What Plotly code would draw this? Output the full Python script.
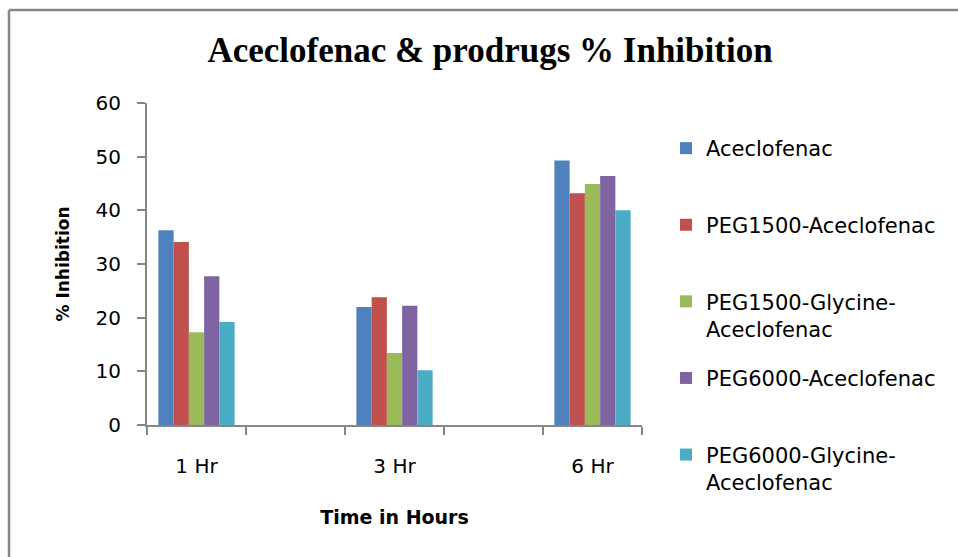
import plotly.graph_objects as go

categories = ["1 Hr", " ", "3 Hr", "  ", "6 Hr"]
time_points = ["1 Hr", "3 Hr", "6 Hr"]
series_names = [
    "Aceclofenac",
    "PEG1500-Aceclofenac",
    "PEG1500-Glycine-<br>Aceclofenac",
    "PEG6000-Aceclofenac",
    "PEG6000-Glycine-<br>Aceclofenac",
]
aceclofenac = [36.3, 22.0, 49.3]
peg1500 = [34.1, 23.8, 43.2]
peg1500_gly = [17.3, 13.4, 44.9]
peg6000 = [27.7, 22.2, 46.4]
peg6000_gly = [19.2, 10.2, 40.0]
series_values = [aceclofenac, peg1500, peg1500_gly, peg6000, peg6000_gly]
colors = ["#4F81BD", "#C0504D", "#9BBB59", "#8064A2", "#4BACC6"]
y_ticks = [0, 10, 20, 30, 40, 50, 60]

W, H = 958, 557
ML, MR, MT, MB = 147, 316, 103, 132

font_family = "'DejaVu Sans', sans-serif"
fig = go.Figure()
for i, (name, vals, col) in enumerate(zip(series_names, series_values, colors)):
    legend_name = name if "<br>" in name else name + "<br>&nbsp;"
    fig.add_trace(go.Bar(x=time_points, y=vals, name=legend_name,
                         marker=dict(color=col, line=dict(width=0)),
                         legendgroup=str(i)))

pw = W - ML - MR
ph = H - MT - MB
fig.add_shape(type="line", xref="paper", yref="paper",
              x0=(9 - ML) / pw, x1=(9 - ML) / pw,
              y0=(H - MB - 560) / ph, y1=(H - MB - 10) / ph,
              line=dict(color="#868686", width=2.5))
fig.add_shape(type="line", xref="paper", yref="paper",
              x0=(9 - ML) / pw, x1=(960 - ML) / pw,
              y0=(H - MB - 10) / ph, y1=(H - MB - 10) / ph,
              line=dict(color="#868686", width=2.5))

fig.update_layout(
    width=W, height=H,
    margin=dict(l=ML, r=MR, t=MT, b=MB, autoexpand=False),
    paper_bgcolor="white", plot_bgcolor="white",
    barmode="group", bargap=0.23, bargroupgap=0,
    title=dict(text="<b>Aceclofenac &amp; prodrugs % Inhibition</b>",
               x=490 / W, xanchor="center", y=1 - 50 / H, yanchor="middle",
               font=dict(family="'Liberation Serif', serif", size=35, color="black")),
    font=dict(family=font_family, size=20, color="black"),
    legend=dict(x=(666 - ML) / pw, xanchor="left",
                y=(H - MB - 128) / ph, yanchor="top", maxheight=470,
                font=dict(family=font_family, size=21, color="black"),
                tracegroupgap=19, valign="top", bgcolor="rgba(0,0,0,0)"),
    xaxis=dict(type="category", categoryorder="array", categoryarray=categories,
               tickson="boundaries", ticks="outside", ticklen=8, tickcolor="#868686",
               tickwidth=1.5, showline=True, linecolor="#868686", linewidth=1.5,
               showgrid=False, ticklabelstandoff=22,
               tickfont=dict(family=font_family, size=20),
               title=dict(text="<b>Time in Hours</b>", standoff=34,
                          font=dict(family=font_family, size=19))),
    yaxis=dict(range=[0, 60], tickvals=y_ticks, ticks="outside", ticklen=8,
               tickcolor="#868686", tickwidth=1.5, showline=True, linecolor="#868686",
               linewidth=2, showgrid=False, zeroline=False, ticklabelstandoff=12,
               tickfont=dict(family=font_family, size=20),
               title=dict(text="<b>% Inhibition</b>", standoff=22,
                          font=dict(family=font_family, size=17))),
)
fig.write_html("out.html", config={"displayModeBar": False},
               post_script="document.body.style.margin='0';")
